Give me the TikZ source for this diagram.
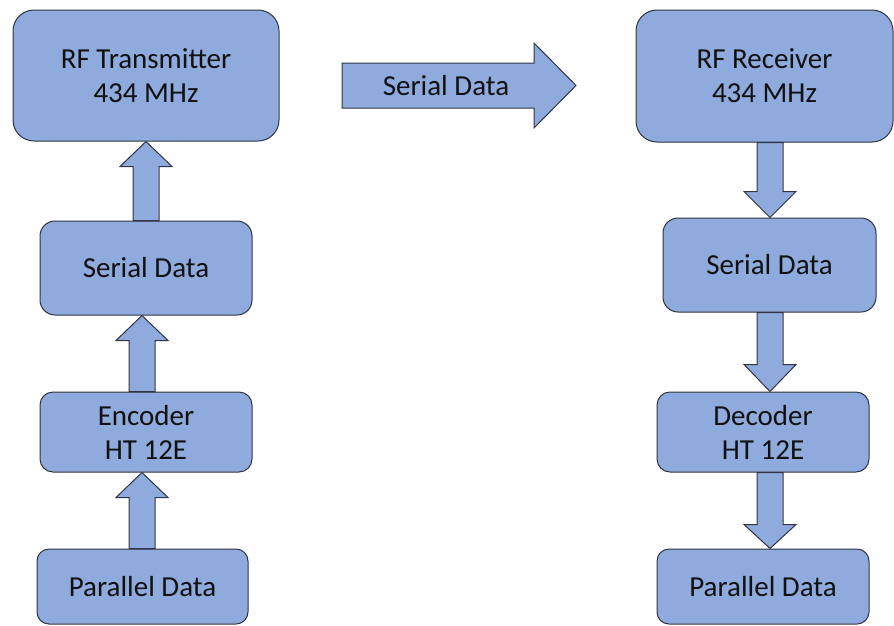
\documentclass[tikz,border=0pt]{standalone}
\usepackage{fontspec}
\setmainfont{Carlito}
\usetikzlibrary{calc}
\definecolor{boxfill}{HTML}{8FAADC}
\definecolor{boxline}{HTML}{2F3542}
\definecolor{txt}{HTML}{111111}
\tikzset{
  blk/.style={draw=boxline, fill=boxfill, line width=1pt, inner sep=0pt,
    align=center, text=txt, font=\fontsize{29}{34}\selectfont},
  barrow/.style={draw=boxline, fill=boxfill, line width=1pt, line join=miter},
}
% #1 tail anchor, #2 tip anchor, #3 arrow centre x (pt), #4 signed head length
\newcommand{\varrow}[4]{%
  \draw[barrow] let \p1=(#1), \p2=(#2) in
    (#3pt-13pt,\y1) -- (#3pt-13pt,\y2#4) -- (#3pt-26pt,\y2#4) -- (#3pt,\y2)
    -- (#3pt+26pt,\y2#4) -- (#3pt+13pt,\y2#4) -- (#3pt+13pt,\y1) -- cycle;}
\begin{document}
\begin{tikzpicture}[x=1pt,y=-1pt]
\useasboundingbox (0,0) rectangle (894,625);
% left column
\node[blk, rounded corners=21pt, minimum width=266pt, minimum height=131pt] (tx) at (146,75.5) {RF Transmitter\\434 MHz};
\node[blk, rounded corners=15pt, minimum width=212pt, minimum height=94pt] (serL) at (146,268) {Serial Data};
\node[blk, rounded corners=13pt, minimum width=212pt, minimum height=80pt] (enc) at (146,432) {Encoder\\HT 12E};
\node[blk, rounded corners=12pt, minimum width=211pt, minimum height=75pt] (parL) at (142.5,586.5) {Parallel Data};
% right column
\node[blk, rounded corners=21pt, minimum width=257pt, minimum height=132pt] (rx) at (764.5,76) {RF Receiver\\434 MHz};
\node[blk, rounded corners=15pt, minimum width=213pt, minimum height=94pt] (serR) at (769.5,265) {Serial Data};
\node[blk, rounded corners=13pt, minimum width=212pt, minimum height=80pt] (dec) at (763,432) {Decoder\\HT 12E};
\node[blk, rounded corners=12pt, minimum width=212pt, minimum height=75pt] (parR) at (763,586.5) {Parallel Data};
% vertical block arrows
\varrow{serL.north}{tx.south}{146}{-25pt}
\varrow{enc.north}{serL.south}{142}{-25pt}
\varrow{parL.north}{enc.south}{142}{-25pt}
\varrow{rx.south}{serR.north}{770}{+26pt}
\varrow{serR.south}{dec.north}{770}{+27pt}
\varrow{dec.south}{parR.north}{770}{+24pt}
% big horizontal arrow
\draw[barrow] (342,63) -- (534,63) -- (534,43) -- (576,85.5) -- (534,128) -- (534,108) -- (342,108) -- cycle;
\node[text=txt, font=\fontsize{29}{34}\selectfont, inner sep=0pt] (sig) at (446,85.5) {Serial Data};
\end{tikzpicture}
\end{document}
